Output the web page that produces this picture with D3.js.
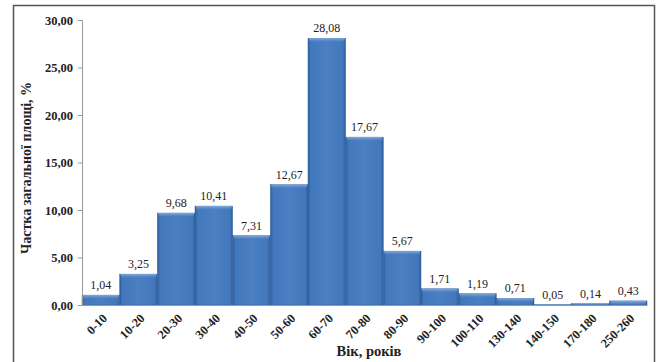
<!DOCTYPE html>
<html><head><meta charset="utf-8">
<script src="https://cdn.jsdelivr.net/npm/d3@7"></script>
<style>body{margin:0;background:#fff}svg{display:block}</style>
</head><body>
<script>
const categories = ["0-10","10-20","20-30","30-40","40-50","50-60","60-70","70-80","80-90","90-100","100-110","130-140","140-150","170-180","250-260"];
const values = [1.04,3.25,9.68,10.41,7.31,12.67,28.08,17.67,5.67,1.71,1.19,0.71,0.05,0.14,0.43];
const yTicks = [0,5,10,15,20,25,30];
const yTitle = "Частка загальної площі, %";
const xTitle = "Вік, років";

const FONT = "'Liberation Serif','Times New Roman',serif";
const W = 657, H = 362;
const svg = d3.select("body").append("svg").attr("width", W).attr("height", H);

const defs = svg.append("defs");
const g1 = defs.append("linearGradient").attr("id","barH").attr("x1","0").attr("x2","1").attr("y1","0").attr("y2","0");
[[0,"#2d5a97"],[0.07,"#4278bc"],[0.5,"#4a7fc2"],[0.93,"#4277bb"],[1,"#2d5a97"]].forEach(([o,c])=>g1.append("stop").attr("offset",o).attr("stop-color",c));
const g2 = defs.append("linearGradient").attr("id","barTop").attr("x1","0").attr("x2","0").attr("y1","0").attr("y2","1");
[[0,"#8fb3e0",0.9],[1,"#5a8dcc",0]].forEach(([o,c,a])=>g2.append("stop").attr("offset",o).attr("stop-color",c).attr("stop-opacity",a));

// outer frame
svg.append("rect").attr("x",13.5).attr("y",5.5).attr("width",641).attr("height",370)
  .attr("fill","none").attr("stroke","#555").attr("stroke-width",1.5);

const x = d3.scaleBand().domain(categories).range([82, 647]).padding(0);
const y = d3.scaleLinear().domain([0,30]).range([305, 20]);

// bars
const bars = svg.append("g");
categories.forEach((c,i)=>{
  const x0 = x(c), bw = x.bandwidth(), y0 = y(values[i]), h = y(0)-y(values[i]);
  bars.append("rect").attr("x",x0).attr("y",y0).attr("width",bw).attr("height",h)
    .attr("fill","url(#barH)").attr("stroke","#3a67a3").attr("stroke-width",0.5);
  bars.append("rect").attr("x",x0+1).attr("y",y0).attr("width",bw-2).attr("height",Math.min(4,h))
    .attr("fill","url(#barTop)");
});

// y axis
const fmt = v => d3.format(".2f")(v).replace(".", ",");
const ya = svg.append("g").attr("transform","translate(82,0)")
  .call(d3.axisLeft(y).tickValues(yTicks).tickFormat(fmt).tickSize(4).tickPadding(5));
ya.select(".domain").attr("stroke","#999");
ya.selectAll(".tick line").attr("stroke","#999");
ya.selectAll("text").attr("font-family",FONT).attr("font-weight","bold")
  .attr("font-size",12.5).attr("fill","#222");

// x axis
const xa = svg.append("g").attr("transform","translate(0,305)")
  .call(d3.axisBottom(x).tickSize(0).tickPadding(0));
xa.select(".domain").attr("stroke","#999");
xa.selectAll("text").attr("font-family",FONT).attr("font-weight","bold")
  .attr("font-size",12.5).attr("fill","#222")
  .attr("text-anchor","end").attr("dy",0)
  .attr("transform","translate(7,14) rotate(-45)");

// value labels
svg.append("g").selectAll("text").data(values).join("text")
  .attr("x",(d,i)=>x(categories[i])+x.bandwidth()/2)
  .attr("y",d=>y(d)-6)
  .attr("text-anchor","middle")
  .attr("font-family",FONT).attr("font-size",12).attr("fill","#222")
  .text(fmt);

// titles
svg.append("text").attr("transform","translate(31,168) rotate(-90)")
  .attr("text-anchor","middle").attr("font-family",FONT).attr("font-weight","bold")
  .attr("font-size",14).attr("fill","#222").text(yTitle);
svg.append("text").attr("x",369).attr("y",356)
  .attr("text-anchor","middle").attr("font-family",FONT).attr("font-weight","bold")
  .attr("font-size",14.5).attr("fill","#222").text(xTitle);
</script>
</body></html>
